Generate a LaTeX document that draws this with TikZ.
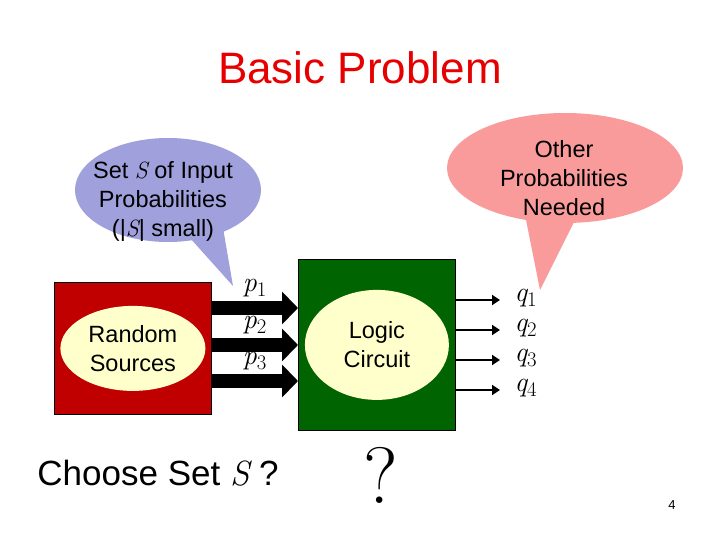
\documentclass[tikz,border=0pt]{standalone}
\usepackage{fontspec}
\setmainfont{Liberation Sans}
\usetikzlibrary{arrows.meta,shapes.geometric}
\definecolor{bluec}{RGB}{160,160,220}
\definecolor{pinkc}{RGB}{250,155,155}
\definecolor{redc}{RGB}{192,0,0}
\definecolor{greenc}{RGB}{0,100,0}
\definecolor{creamc}{RGB}{255,255,204}
\definecolor{titlec}{RGB}{230,0,0}
\newcommand{\mth}[1]{\fontspec{Latin Modern Roman}\itshape #1}
\begin{document}
\begin{tikzpicture}[x=1pt,y=-1pt,
  box/.style={draw=black,line width=0.8pt,minimum width=157pt,anchor=north west,inner sep=0pt},
  ell/.style={ellipse,fill=creamc,inner sep=0pt,align=center,font=\fontsize{23.5}{29}\selectfont},
  thick arr/.style={line width=14pt,-{Triangle[length=16pt,width=32pt]}},
  thin arr/.style={line width=2.5pt,-{Triangle[length=8pt,width=10pt]}},
  lbl/.style={font=\fontsize{28}{30}\selectfont\mth{}},
  ctext/.style={align=center,font=\fontsize{23.5}{29}\selectfont}]
\useasboundingbox (0,0) rectangle (720,540);
\node[font=\fontsize{44}{48}\selectfont,text=titlec] (title) at (360,68) {Basic Problem};
% callouts
\fill[bluec] (168,190) ellipse [x radius=93, y radius=52];
\fill[bluec] (190,238) -- (233,286) -- (222,222) -- cycle;
\node[ctext] (cin) at (163,201) {Set {\mth{S}} of Input\\Probabilities\\(|{\mth{S}}| small)};
\fill[pinkc] (565,168) ellipse [x radius=118, y radius=55];
\fill[pinkc] (525,215) -- (540,290) -- (575,220) -- cycle;
\node[ctext] (cout) at (564,178) {Other\\Probabilities\\Needed};
% boxes
\node[box,fill=redc,minimum height=132pt] (src) at (54,282) {};
\node[ell,minimum width=145pt,minimum height=85pt] (srce) at (src.center) {Random\\Sources};
\node[box,fill=greenc,minimum height=171pt] (lc) at (298,259) {};
\node[ell,minimum width=144pt,minimum height=110pt] (lce) at (lc.center) {Logic\\Circuit};
% inputs
\foreach \y/\i in {308/1,345/2,381/3}{
  \coordinate (a\i) at (src.east |- 0,\y);
  \coordinate (b\i) at (lc.west |- 0,\y);
  \draw[thick arr] (a\i) -- (b\i);
  \node[lbl] (p\i) at (255,\y-20) {p$_{\i}$};
}
% outputs
\foreach \y/\i in {300/1,330/2,360/3,390/4}{
  \coordinate (c\i) at (lc.east |- 0,\y);
  \coordinate (d\i) at (500,\y);
  \draw[thin arr] (c\i) -- (d\i);
  \node[lbl,anchor=west] (q\i) at (511,\y-2) {q$_{\i}$};
}
\node[font=\fontsize{35}{38}\selectfont] (choose) at (158,473) {Choose Set {\mth{S}} ?};
\node[font=\fontsize{80}{80}\selectfont\fontspec{Latin Modern Roman}] (qm) at (381,475) {?};
\node[font=\fontsize{13}{14}\selectfont] (pg) at (672,505) {4};
\end{tikzpicture}
\end{document}
